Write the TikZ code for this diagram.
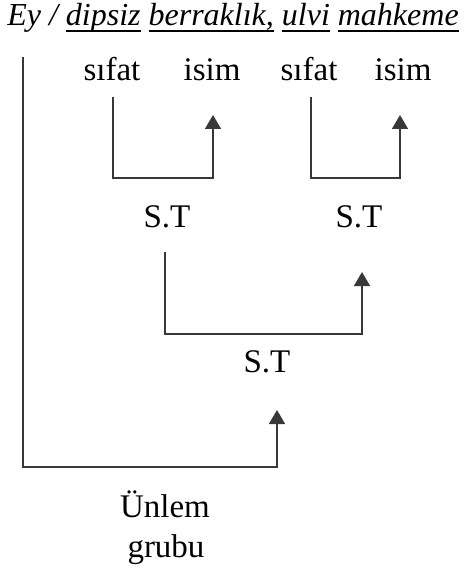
\documentclass[tikz,border=0pt]{standalone}
\usepackage{fontspec}
\setmainfont{Liberation Serif}
\usetikzlibrary{arrows.meta}
\newsavebox{\ulwbox}
\newcommand{\ulw}[1]{\sbox{\ulwbox}{#1}\rlap{\rule[-6pt]{\wd\ulwbox}{1.6pt}}\usebox{\ulwbox}}
\tikzset{
  lbl/.style={inner sep=0pt, anchor=base, font=\fontsize{33}{40}\selectfont, text=black},
  conn/.style={line width=1.6pt, draw=black!78},
  arr/.style={conn, -{Triangle[width=16pt,length=14pt]}},
}
\begin{document}
\begin{tikzpicture}[x=1pt,y=-1pt]
\useasboundingbox (0,0) rectangle (464,569);
\node[lbl, font=\fontsize{32}{38}\selectfont\itshape] (title) at (233,26)
  {Ey / \ulw{dipsiz} \ulw{berraklık,} \ulw{ulvi} \ulw{mahkeme}};
\coordinate (ey) at (23,57);
\node[lbl] (s1) at (112,81) {sıfat};
\node[lbl] (i1) at (212,81) {isim};
\node[lbl] (s2) at (309,81) {sıfat};
\node[lbl] (i2) at (403,81) {isim};
\node[lbl] (st1) at (167,227) {S.T};
\node[lbl] (st2) at (359,227) {S.T};
\node[lbl] (st3) at (267,372) {S.T};
\node[lbl] (un) at (165,517) {Ünlem};
\node[lbl] (gr) at (166,557) {grubu};
% brackets
\draw[arr] ([xshift=1pt,yshift=-16pt]s1.base) -- ++(0,81) -| ([xshift=1pt,yshift=-34pt]i1.base);
\draw[arr] ([xshift=2pt,yshift=-16pt]s2.base) -- ++(0,81) -| ([xshift=-3pt,yshift=-34pt]i2.base);
\draw[arr] ([xshift=-2pt,yshift=-25pt]st1.base) -- ++(0,82) -| ([xshift=3pt,yshift=-45pt]st2.base);
\draw[arr] (ey) -- ++(0,410) -| ([xshift=10pt,yshift=-38pt]st3.base);
\end{tikzpicture}
\end{document}
